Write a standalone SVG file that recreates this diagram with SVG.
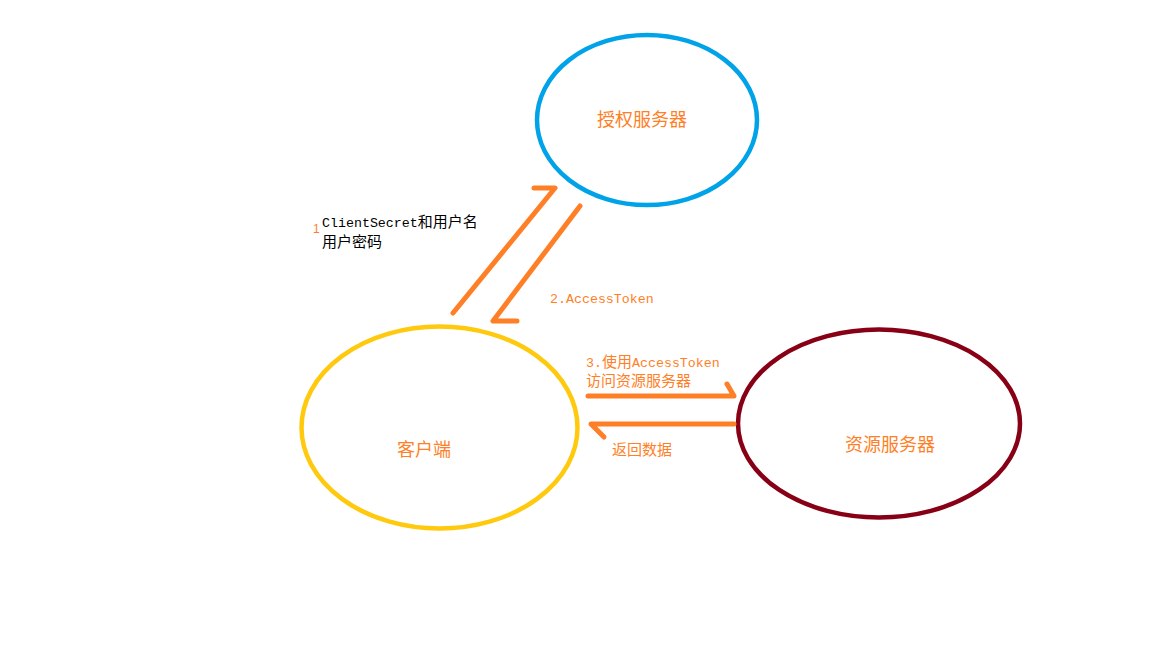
<svg xmlns="http://www.w3.org/2000/svg" width="1152" height="648" viewBox="0 0 1152 648">
<style>
.node{fill:none;stroke-width:4.5}
.lbl{font-family:"Noto Sans CJK SC","Noto Sans",sans-serif;font-size:18px;fill:#ff7f27;text-anchor:middle}
.arr{fill:none;stroke:#ff7f27;stroke-width:5;stroke-linecap:round;stroke-linejoin:round}
.t{font-family:"Liberation Mono","Noto Sans CJK SC",monospace;font-size:13.3px}
.c{font-family:"Noto Sans CJK SC",sans-serif;font-size:15px}
.o{fill:#ff7f27}
.k{fill:#000}
</style>
<rect width="1152" height="648" fill="#fff"/>
<g id="auth-server">
<ellipse class="node" cx="647" cy="120" rx="110" ry="85" stroke="#00a2e8"/>
<text class="lbl" x="642" y="126">授权服务器</text>
</g>
<g id="client">
<ellipse class="node" cx="439.5" cy="427.5" rx="138" ry="101" stroke="#ffc90e"/>
<text class="lbl" x="424" y="456">客户端</text>
</g>
<g id="resource-server">
<ellipse class="node" cx="879" cy="423.5" rx="141" ry="94" stroke="#880015"/>
<text class="lbl" x="890" y="451">资源服务器</text>
</g>
<g id="connectors">
<polyline class="arr" points="453,313 555,188 534,188"/>
<polyline class="arr" points="580,206 493,321 517,321"/>
<polyline class="arr" points="588,396 734,396 727,384"/>
<polyline class="arr" points="734,424 591,424 604,437"/>
</g>
<g id="labels">
<text x="313" y="233" font-family="Liberation Sans,sans-serif" font-size="12" class="o">1</text>
<text x="322" y="227" class="k"><tspan class="t">ClientSecret</tspan><tspan class="c" font-size="15.5">和用户名</tspan></text>
<text x="322" y="247" class="k c" font-size="15.5">用户密码</text>
<text x="550" y="303" class="t o">2.AccessToken</text>
<text x="586" y="367" class="o"><tspan class="t">3.</tspan><tspan class="c">使用</tspan><tspan class="t">AccessToken</tspan></text>
<text x="586" y="386" class="c o">访问资源服务器</text>
<text x="612" y="455" class="c o">返回数据</text>
</g>
</svg>
